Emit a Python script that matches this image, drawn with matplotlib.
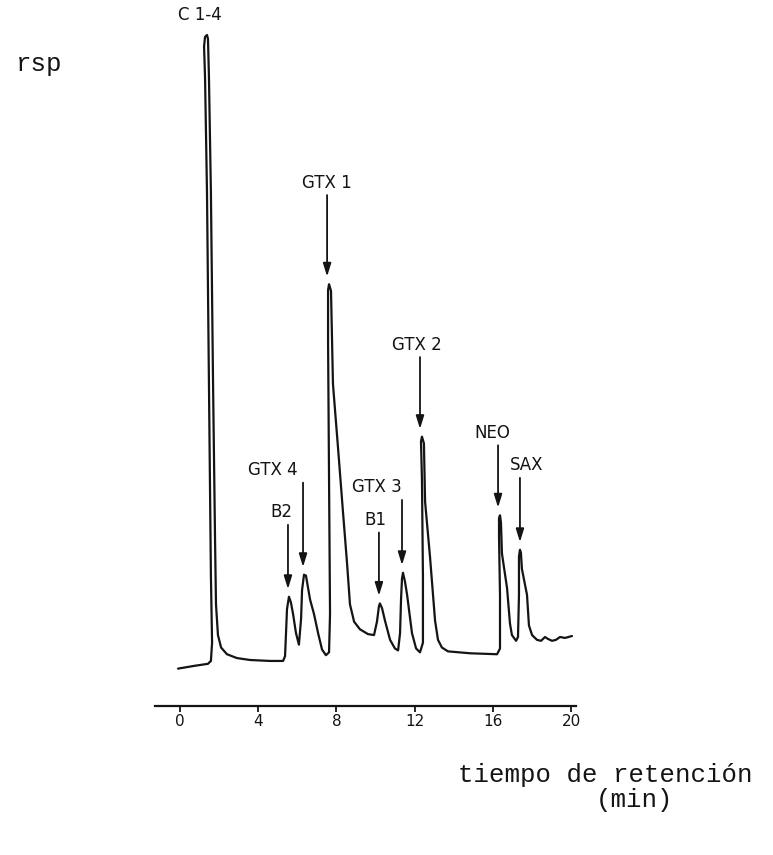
import matplotlib
matplotlib.use("Agg")
import matplotlib.pyplot as plt
import numpy as np

# Chromatogram trace: retention time (min) and detector response (arbitrary units)
time_min = [
    -0.10, 0.77, 1.43, 1.58, 1.64, 1.58, 1.48, 1.38, 1.28, 1.23,
    1.28, 1.38, 1.43, 1.48, 1.58, 1.69, 1.79, 1.84, 1.94, 2.10,
    2.40, 2.91, 3.58, 4.60, 5.27, 5.37, 5.42, 5.47, 5.57, 5.67,
    5.78, 5.93, 6.08, 6.19, 6.24, 6.34, 6.44, 6.65, 6.85, 7.06,
    7.26, 7.46, 7.62, 7.67, 7.62, 7.57, 7.57, 7.62, 7.72, 7.82,
    8.08, 8.33, 8.54, 8.69, 8.90, 9.20, 9.61, 9.92, 10.07, 10.17,
    10.22, 10.33, 10.48, 10.74, 10.99, 11.15, 11.25, 11.30, 11.35, 11.40,
    11.50, 11.61, 11.86, 12.07, 12.27, 12.42, 12.42, 12.37, 12.32, 12.37,
    12.47, 12.53, 12.78, 13.04, 13.19, 13.39, 13.70, 14.83, 16.21, 16.36,
    16.36, 16.31, 16.31, 16.36, 16.41, 16.46, 16.72, 16.87, 16.97, 17.18,
    17.28, 17.33, 17.33, 17.38, 17.43, 17.48, 17.74, 17.84, 18.00, 18.25,
    18.46, 18.66, 18.81, 19.02, 19.22, 19.43, 19.68, 20.04,
]
response = [
    -1, 2, 4, 7, 26, 96, 296, 496, 616, 648,
    658, 660, 656, 616, 496, 296, 136, 66, 34, 21,
    14, 10, 8, 7, 7, 12, 36, 61, 74, 68,
    56, 36, 24, 51, 81, 97, 96, 71, 56, 36,
    19, 13, 16, 56, 196, 340, 394, 400, 393, 296,
    229, 163, 109, 66, 48, 40, 35, 34, 48, 64,
    67, 62, 49, 29, 20, 18, 36, 71, 93, 99,
    90, 76, 36, 20, 16, 26, 96, 196, 236, 241,
    234, 173, 116, 49, 29, 21, 17, 15, 14, 20,
    76, 136, 156, 159, 151, 119, 83, 46, 34, 28,
    32, 76, 116, 123, 120, 103, 76, 44, 34, 29,
    28, 32, 30, 28, 29, 32, 31, 33,
]

# Identified toxins and the retention time of each apex (min)
peak_names = ["B2", "GTX 4", "GTX 1", "B1", "GTX 3", "GTX 2", "NEO", "SAX"]
peak_times = [5.52, 6.29, 7.52, 10.17, 11.35, 12.27, 16.26, 17.38]

# Unresolved C1-4 group eluting at the front
front_label = "C 1-4"
front_time = 1.33

x_ticks = [0, 4, 8, 12, 16, 20]

# Arrow layout: shaft length (response units) and label offset (min)
arrow_len = {"B2": 67, "GTX 4": 88, "GTX 1": 85, "B1": 66,
             "GTX 3": 68, "GTX 2": 75, "NEO": 65, "SAX": 67}
label_dx = {"B2": -0.36, "GTX 4": -1.54, "GTX 1": 0.0, "B1": -0.20,
            "GTX 3": -1.28, "GTX 2": -0.16, "NEO": -0.31, "SAX": 0.36}
tip_gap = 8
label_gap = 13

W, H = 773, 855
fig = plt.figure(figsize=(W / 100, H / 100), dpi=100)
fig.patch.set_facecolor("white")

ax_left, ax_right, ax_bottom = 155, 576, 706
ax = fig.add_axes([ax_left / W, (H - ax_bottom) / H,
                   (ax_right - ax_left) / W, ax_bottom / H])
ax.set_xlim((ax_left - 180) / 19.56, (ax_right - 180) / 19.56)
ax.set_ylim(-40, 696.5)
ax.patch.set_alpha(0)

ink = "#141414"
t = np.array(time_min)
r = np.array(response)
ax.plot(t, r, color=ink, lw=1.6, solid_joinstyle="round", solid_capstyle="round")

label_font = dict(family="DejaVu Sans", fontsize=12, color=ink)

for name, pt in zip(peak_names, peak_times):
    near = np.abs(t - pt) <= 0.15
    apex = r[near].max()
    tip = apex + tip_gap
    tail = tip + arrow_len[name]
    ax.annotate("", xy=(pt, tip), xytext=(pt, tail),
                arrowprops=dict(arrowstyle="-|>,head_length=0.65,head_width=0.2",
                                color=ink, lw=1.3, mutation_scale=12,
                                shrinkA=0, shrinkB=0))
    ax.text(pt + label_dx[name], tail + label_gap, name,
            ha="center", va="center", **label_font)

front_apex = r[np.abs(t - front_time) <= 0.2].max()
ax.text(front_time - 0.31, front_apex + 21, front_label,
        ha="center", va="center", **label_font)

# Time axis along the bottom only
for side in ("left", "right", "top"):
    ax.spines[side].set_visible(False)
ax.spines["bottom"].set_linewidth(1.6)
ax.spines["bottom"].set_color(ink)
ax.set_yticks([])
ax.set_xticks(x_ticks)
ax.set_xticklabels([str(v) for v in x_ticks], family="DejaVu Sans",
                   fontsize=11, color=ink)
ax.tick_params(axis="x", direction="out", length=4, width=1.3,
               color=ink, pad=1.5)

mono = dict(family="Liberation Mono", fontsize=18.5, color=ink)
fig.text(16 / W, 1 - 64 / H, "rsp", ha="left", va="center", **mono)
fig.text(458 / W, 1 - 775 / H, "tiempo de retención", ha="left", va="center", **mono)
fig.text(635 / W, 1 - 800 / H, "(min)", ha="center", va="center", **mono)

fig.savefig("out.png", dpi=100, facecolor="white")
